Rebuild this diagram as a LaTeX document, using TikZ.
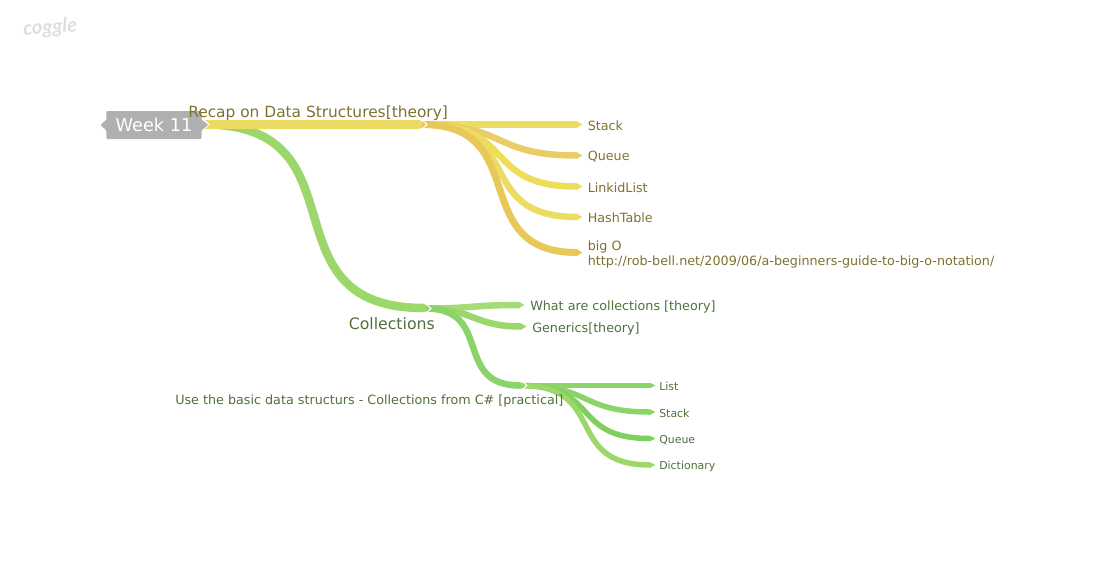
\documentclass[tikz,border=0pt]{standalone}
\usepackage{fontspec}
\setmainfont{DejaVu Sans}
\newfontfamily\logofont{Lato}
\usetikzlibrary{calc}
\definecolor{cY}{HTML}{EBDC62}
\definecolor{cYa}{HTML}{EDDA62}
\definecolor{cO}{HTML}{EBCD68}
\definecolor{cOb}{HTML}{E9C85A}
\definecolor{cYb}{HTML}{EEDD58}
\definecolor{cGa}{HTML}{9BD76B}
\definecolor{cGb}{HTML}{A5DC78}
\definecolor{cGc}{HTML}{8AD468}
\definecolor{cGd}{HTML}{7FD05F}
\definecolor{tY}{HTML}{7F7130}
\definecolor{tG}{HTML}{50703A}
\tikzset{
  lab/.style={inner sep=0pt,anchor=west,font=\fontsize{9.55pt}{11.6pt}\selectfont,text=tY},
  labg/.style={lab,text=tG},
  labs/.style={lab,text=tG,font=\fontsize{8.2pt}{10pt}\selectfont},
  big/.style={inner sep=0pt,font=\fontsize{11.55pt}{14pt}\selectfont},
  root/.style={fill=black!31,rounded corners=1pt,minimum width=71.5pt,minimum height=21pt,inner sep=0pt,text=white,font=\fontsize{13.3pt}{16pt}\selectfont},
  notch/.style={draw=white,line width=0.75pt,line join=miter},
}
% [control factor]{colour}{width px}{start}{end}: S-curve with pentagon tip
\newcommand{\branch}[5][0.75]{%
  \draw[#2,line width=#3*0.75pt] (#4) .. controls ($(#4)!#1!(#5|-#4)$) and ($(#5)!#1!(#4|-#5)$) .. (#5);
  \fill[#2] ($(#5)+(0,-#3*0.75pt/2)$) -- ($(#5)+(4pt,0)$) -- ($(#5)+(0,#3*0.75pt/2)$) -- cycle;
}
% white chevron at a junction
\newcommand{\chev}[1]{\draw[notch] ($(#1)+(-4pt,-3.6pt)$) -- (#1) -- ($(#1)+(-4pt,3.6pt)$);}
\begin{document}
\begin{tikzpicture}[x=0.75pt,y=-0.75pt]
\useasboundingbox (0,0) rectangle (1098,579);
\coordinate (rootR) at (204,124.5);
\coordinate (j1E) at (420,124.5);
\coordinate (j1S) at (422,124.5);
\coordinate (e11) at (577,124.5);
\coordinate (e12) at (577,155.5);
\coordinate (e13) at (577,186.5);
\coordinate (e14) at (577,217);
\coordinate (e15) at (577,252.5);
\coordinate (j2E) at (424,308);
\coordinate (j2S) at (426,308.5);
\coordinate (e21) at (519,305);
\coordinate (e22) at (521,326.5);
\coordinate (j3E) at (520,385.5);
\coordinate (j3S) at (521,385.5);
\coordinate (e31) at (650,385.5);
\coordinate (e32) at (650,412);
\coordinate (e33) at (650,438.5);
\coordinate (e34) at (650,465);
\coordinate (chR) at (209,124.5);
\coordinate (ch1) at (427,124.5);
\coordinate (ch2) at (431,308.5);
\coordinate (ch3) at (527,385.5);
% branches
\branch{cGa}{8.5}{rootR}{j2E}
\branch[0.5]{cYa}{8.5}{rootR}{j1E}
\branch[0.5]{cY}{6.5}{j1S}{e11}
\branch[0.55]{cO}{6.5}{j1S}{e12}
\branch[0.62]{cYb}{6.5}{j1S}{e13}
\branch[0.68]{cY}{6.5}{j1S}{e14}
\branch[0.72]{cOb}{7}{j1S}{e15}
\branch[0.5]{cGb}{6.5}{j2S}{e21}
\branch[0.5]{cGa}{6.5}{j2S}{e22}
\branch[0.72]{cGc}{6.5}{j2S}{j3E}
\branch[0.5]{cGc}{5.5}{j3S}{e31}
\branch[0.55]{cGc}{5.5}{j3S}{e32}
\branch[0.62]{cGd}{5.5}{j3S}{e33}
\branch[0.68]{cGa}{5.5}{j3S}{e34}
\chev{chR}\chev{ch1}\chev{ch2}\chev{ch3}
% root
\node[root] (week) at (154,125) {Week 11};
\fill[black!31] (107,119) -- (100.5,125) -- (107,131) -- cycle;
\fill[black!31] (201,119) -- (208,125) -- (201,131) -- cycle;
% labels
\node[big,text=tY,anchor=west] (recap) at (188,113) {Recap on Data Structures[theory]};
\node[lab] (stack) at (587.5,126) {Stack};
\node[lab] (queue) at (587.5,157) {Queue};
\node[lab] (linked) at (587.5,187.5) {LinkidList};
\node[lab] (hash) at (587.5,218) {HashTable};
\node[lab,align=left] (bigo) at (587.5,254.5) {big O\\http://rob-bell.net/2009/06/a-beginners-guide-to-big-o-notation/};
\node[big,text=tG,anchor=west,font=\fontsize{11.8pt}{14pt}\selectfont] (coll) at (348.5,324) {Collections};
\node[labg] (what) at (530,306.5) {What are collections [theory]};
\node[labg] (gen) at (532,328.5) {Generics[theory]};
\node[labg] (use) at (175,400.5) {Use the basic data structurs - Collections from C\# [practical]};
\node[labs] (list) at (659,386.5) {List};
\node[labs] (st2) at (659,413) {Stack};
\node[labs] (qu2) at (659,440) {Queue};
\node[labs] (dict) at (659,466) {Dictionary};
\node[inner sep=0pt,text=black!13,rotate=4,font=\logofont\bfseries\itshape\fontsize{15pt}{17pt}\selectfont] (logo) at (50,28) {coggle};
\end{tikzpicture}
\end{document}
